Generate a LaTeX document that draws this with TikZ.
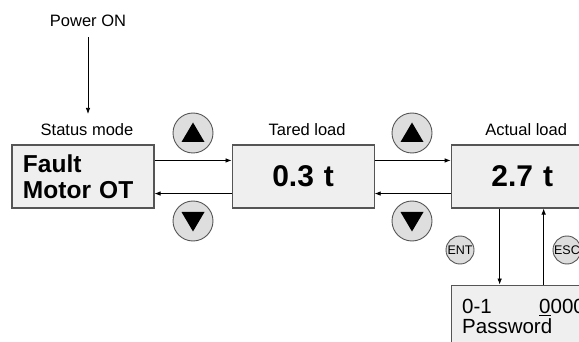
\documentclass[tikz,border=0pt]{standalone}
\usepackage{fontspec}
\setmainfont{Liberation Sans}
\usepackage{xcolor}
\usetikzlibrary{arrows.meta, positioning}
\definecolor{PanelGray}{RGB}{239,239,239}
\definecolor{KeyGray}{RGB}{222,222,222}
\definecolor{EdgeGray}{RGB}{85,85,85}

\begin{document}
\begin{tikzpicture}[x=1pt, y=-1pt,
          display/.style={rectangle, draw=EdgeGray, fill=PanelGray, line width=1.1pt, minimum width=142pt, minimum height=63pt, text width=120pt, inner xsep=11pt, inner ysep=0pt},
          message/.style={display, align=left, font=\fontsize{24.5}{26}\selectfont\bfseries},
          reading/.style={display, align=center, font=\fontsize{30}{30}\selectfont\bfseries},
          entry/.style={display, align=left, font=\fontsize{20.5}{20}\selectfont},
          caption/.style={font=\fontsize{16.5}{18}\selectfont, inner sep=2pt},
          key/.style={circle, draw=EdgeGray, fill=KeyGray, line width=0.9pt, minimum size=40pt, inner sep=0pt},
          textkey/.style={key, minimum size=28pt, font=\fontsize{12.5}{13}\selectfont},
          arrow/.style={-{Latex[length=6pt, width=4.5pt]}, line width=0.7pt}
        ]
          \useasboundingbox (0,0) rectangle (579,342);

          \node (status) [message] at (83,176.5) {Fault\\Motor OT};
          \node (tared) [reading, right=77pt of status] {0.3 t};
          \node (actual) [reading, right=76pt of tared] {2.7 t};
          \node (pass) [entry, below=76pt of actual] {\makebox[77pt][l]{0-1}\underline{0}000\\Password};

          \node (statuslbl) [caption, above=7pt of status, xshift=4pt] {Status mode};
          \node (taredlbl) [caption, above=7pt of tared, xshift=4pt] {Tared load};
          \node (actuallbl) [caption, above=7pt of actual, xshift=4pt] {Actual load};
          \node (power) [caption] at (88,21) {Power ON};

          \node (upA) [key] at (193,133) {};
          \node (downA) [key] at (193,221) {};
          \node (upB) [key] at (412,133) {};
          \node (downB) [key] at (412,221) {};
          \node (ent) [textkey] at (460,250) {ENT};
          \node (esc) [textkey] at (567,250) {ESC};

          \foreach \k in {upA, upB}
            \fill ([shift={(-11.5pt,-9pt)}]\k.center) -- ++(23pt,0pt) -- ++(-11.5pt,19.5pt) -- cycle;
          \foreach \k in {downA, downB}
            \fill ([shift={(-11.5pt,9pt)}]\k.center) -- ++(23pt,0pt) -- ++(-11.5pt,-19.5pt) -- cycle;

          \draw [arrow, shorten <=8pt, shorten >=7pt] (power.south) -- (power.south |- statuslbl.north);
          \draw [arrow] ([yshift=-16pt]status.north east) -- ([yshift=-16pt]tared.north west);
          \draw [arrow] ([yshift=15pt]tared.south west) -- ([yshift=15pt]status.south east);
          \draw [arrow] ([yshift=-16pt]tared.north east) -- ([yshift=-16pt]actual.north west);
          \draw [arrow] ([yshift=15pt]actual.south west) -- ([yshift=15pt]tared.south east);
          \draw [arrow] ([xshift=49pt]actual.south west) -- ([xshift=49pt]pass.north west);
          \draw [arrow] ([xshift=93pt]pass.north west) -- ([xshift=93pt]actual.south west);
        \end{tikzpicture}
\end{document}
